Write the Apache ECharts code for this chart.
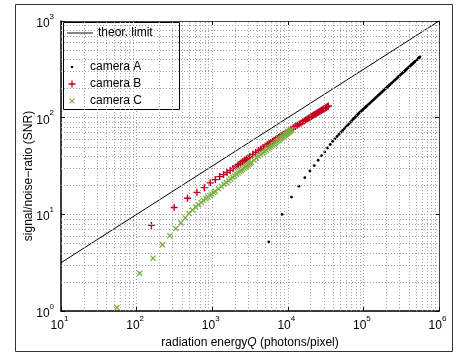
<!DOCTYPE html>
<html>
<head>
<meta charset="utf-8">
<style>
  html, body { margin: 0; padding: 0; background: #fff; }
  #main { width: 461px; height: 354px; }
</style>
<script src="https://cdn.jsdelivr.net/npm/echarts/dist/echarts.min.js"></script>
</head>
<body>
<div id="main"></div>
<script>
// theoretical limit SNR = sqrt(Q)
var limitQ = [10, 1000000];
var limitSNR = [3.162, 1000];

// camera A (black dots)
var camA_Q = [5600, 8400, 11200, 14000, 16800, 19600, 22400, 25200, 28000, 30800,
  33600, 36400, 39200, 42000, 44800, 47600, 50400, 53200, 56000, 58800,
  61600, 64400, 67200, 70000, 72800, 75600, 78400, 81200, 84000, 86800,
  89600, 92400, 95200, 98000, 100800, 103600, 106400, 109200, 112000,
  117600, 123200, 128800, 134400, 140000, 145600, 151200, 156800, 162400, 168000,
  173600, 179200, 184800, 190400, 196000, 201600, 207200, 212800, 218400, 224000,
  235200, 246400, 257600, 268800, 280000, 291200, 302400, 313600, 324800, 336000,
  347200, 358400, 369600, 380800, 392000, 403200, 414400, 425600, 436800, 448000,
  459200, 470400, 481600, 492800, 504000, 515200, 526400, 537600, 548800, 560000];
var camA_SNR = [5.2, 10.0, 15.1, 19.6, 24.0, 28.1, 32.0, 36.3, 40.4, 44.4,
  48.6, 52.8, 57.0, 60.4, 63.9, 67.2, 70.6, 73.9, 77.2, 80.5,
  83.7, 86.5, 89.6, 92.8, 95.9, 98.9, 101.9, 104.8, 107.6, 110.5,
  113.3, 115.8, 118.4, 120.9, 123.4, 125.8, 128.3, 130.7, 133.1,
  137.9, 142.6, 147.2, 151.8, 156.4, 160.8, 165.3, 169.7, 174.1, 178.4,
  182.7, 186.9, 191.1, 195.2, 199.3, 203.4, 207.5, 211.5, 215.4, 219.4,
  227.2, 235.0, 242.7, 250.2, 257.8, 265.2, 272.5, 279.8, 287.0, 294.2,
  301.2, 308.3, 315.2, 322.1, 328.9, 335.7, 342.4, 348.9, 355.5, 361.9,
  368.4, 374.8, 381.4, 387.7, 394.1, 400.4, 406.6, 412.9, 419.1, 425.2];

// camera B (red +)
var camB_Q = [157, 314, 471, 628, 785, 942, 1099, 1256, 1413, 1570,
  1727, 1884, 2041, 2198, 2355, 2512, 2669, 2826, 2983, 3140,
  3454, 3768, 4082, 4396, 4710, 5024, 5338, 5652, 5966, 6280,
  6594, 6908, 7222, 7536, 7850, 8164, 8478, 8792, 9106, 9420,
  10205, 10990, 11775, 12560, 13345, 14130, 14915, 15700, 16485, 17270,
  18055, 18840, 19625, 20410, 21195, 21980, 22765, 23550, 24335, 25120,
  25905, 26690, 27475, 28260, 29045, 29830, 30615, 31400, 32185, 32970,
  33755, 34383];
var camB_SNR = [7.7, 11.8, 14.7, 16.9, 18.9, 21.2, 22.9, 24.6, 25.8, 27.1,
  28.5, 29.9, 31.3, 32.6, 33.9, 35.1, 36.3, 37.4, 38.6, 39.7,
  41.8, 43.9, 45.7, 47.4, 49.1, 50.8, 52.4, 54.0, 55.4, 56.9,
  58.4, 59.8, 61.1, 62.5, 63.8, 65.1, 66.4, 67.6, 68.8, 70.0,
  72.9, 75.8, 78.5, 81.3, 83.7, 86.0, 88.3, 90.5, 92.6, 94.7,
  96.8, 98.8, 100.7, 102.7, 104.5, 106.4, 108.2, 109.9, 111.7, 113.4,
  115.1, 116.8, 118.4, 120.1, 121.7, 123.2, 124.8, 126.3, 127.8, 129.3,
  130.8, 131.9];

// camera C (green x)
var camC_Q = [55, 110, 165, 220, 275, 330, 385, 440, 495, 550,
  605, 660, 715, 770, 825, 880, 935, 990, 1045, 1100,
  1210, 1320, 1430, 1540, 1650, 1760, 1870, 1980, 2090, 2200,
  2310, 2420, 2530, 2640, 2750, 2860, 2970, 3080, 3190, 3300,
  3575, 3850, 4125, 4400, 4675, 4950, 5225, 5500, 5775, 6050,
  6325, 6600, 6875, 7150, 7425, 7700, 7975, 8250, 8525, 8800,
  9075, 9350, 9625, 9900, 10175, 10450, 10725, 11000, 11275];
var camC_SNR = [1.09, 2.46, 3.53, 4.85, 6.0, 7.13, 8.15, 9.2, 10.2, 11.1,
  11.9, 12.6, 13.3, 13.9, 14.5, 15.1, 15.7, 16.2, 16.8, 17.3,
  18.4, 19.5, 20.5, 21.4, 22.4, 23.3, 24.2, 25.1, 26.0, 26.8,
  27.7, 28.5, 29.3, 30.1, 30.9, 31.6, 32.4, 33.2, 33.9, 34.6,
  36.4, 38.2, 39.9, 41.5, 43.1, 44.6, 46.2, 47.7, 49.2, 50.6,
  52.1, 53.5, 54.9, 56.3, 57.6, 58.9, 60.2, 61.5, 62.8, 64.1,
  65.4, 66.6, 67.8, 69.0, 70.2, 71.4, 72.7, 73.9, 75.0];

// minor grid positions
var minorX = [20, 30, 40, 50, 60, 70, 80, 90,
  200, 300, 400, 500, 600, 700, 800, 900,
  2000, 3000, 4000, 5000, 6000, 7000, 8000, 9000,
  20000, 30000, 40000, 50000, 60000, 70000, 80000, 90000,
  200000, 300000, 400000, 500000, 600000, 700000, 800000, 900000];
var minorY = [2, 3, 4, 5, 6, 7, 8, 9,
  20, 30, 40, 50, 60, 70, 80, 90,
  200, 300, 400, 500, 600, 700, 800, 900];

var FONT = "'Liberation Sans', Arial, Helvetica, sans-serif";
var gridStyle = { color: '#a0a0a0', width: 1, type: [1, 2] };

// symbols
var PLUS = 'path://M4,0H6V4H10V6H6V10H4V6H0V4H4Z';
var CROSS = 'path://M0,1.6L1.6,0L10,8.4L8.4,10ZM8.4,0L10,1.6L1.6,10L0,8.4Z';
// legend icons (degenerate points only widen the box, so the mark stays small)
var LINE_ICON = 'path://M0,0H30V1.1H0Z';
var DOT_ICON = 'path://M0,0L0,0M10,10L10,10M3.9,3.9H6.1V6.1H3.9Z';
var PLUS_ICON = 'path://M-2,-2L-2,-2M12,12L12,12M4.1,0H5.9V4.1H10V5.9H5.9V10H4.1V5.9H0V4.1H4.1Z';
var CROSS_ICON = 'path://M-4,-4L-4,-4M14,14L14,14M0,1.5L1.5,0L10,8.5L8.5,10ZM8.5,0L10,1.5L1.5,10L0,8.5Z';

function pairs(xs, ys) {
  return xs.map(function (x, i) { return [x, ys[i]]; });
}

function powLabel(v) {
  return '{b|10}{s|' + Math.round(Math.log10(v)) + '}';
}

var labelRich = {
  b: { fontSize: 12, lineHeight: 17, verticalAlign: 'bottom', color: '#000', fontFamily: FONT },
  s: { fontSize: 8, lineHeight: 8, verticalAlign: 'top', color: '#000', fontFamily: FONT, padding: [0, 3, 0, 0] }
};

var markData = minorX.map(function (v) { return { xAxis: v }; })
  .concat(minorY.map(function (v) { return { yAxis: v }; }));

var chart = echarts.init(document.getElementById('main'));

chart.setOption({
  animation: false,
  backgroundColor: '#fff',
  textStyle: { fontFamily: FONT },
  grid: { left: 61, top: 21, width: 378, height: 292, show: false },
  graphic: [
    {
      type: 'rect', z: 0, silent: true,
      shape: { x: 15.5, y: 4.5, width: 437, height: 347 },
      style: { fill: 'none', stroke: '#333', lineWidth: 1 }
    },
    {
      type: 'rect', z: 5, silent: true,
      shape: { x: 63.5, y: 22.5, width: 116, height: 87 },
      style: { fill: '#fff', stroke: '#000', lineWidth: 1 }
    },
    {
      type: 'text', z: 5, silent: true,
      x: 29, y: 176, rotation: Math.PI / 2,
      style: {
        text: 'signal/noise\u2212ratio (SNR)', font: '12px ' + FONT, fill: '#000',
        align: 'center', verticalAlign: 'middle'
      }
    }
  ],
  legend: [
    {
      z: 10, orient: 'vertical', left: 67, top: 26, padding: 0,
      itemWidth: 26, itemHeight: 10, itemGap: 3,
      textStyle: { fontSize: 12, lineHeight: 14, color: '#000', fontFamily: FONT },
      data: [{ name: 'theor. limit', icon: LINE_ICON }]
    },
    {
      z: 10, orient: 'vertical', left: 67, top: 60, padding: 0,
      itemWidth: 26, itemHeight: 10, itemGap: 3,
      textStyle: { fontSize: 12, lineHeight: 14, color: '#000', fontFamily: FONT },
      data: [
        { name: 'camera A', icon: DOT_ICON },
        { name: 'camera B', icon: PLUS_ICON },
        { name: 'camera C', icon: CROSS_ICON }
      ]
    }
  ],
  xAxis: [
    {
      type: 'log', logBase: 10, min: 10, max: 1000000, splitNumber: 5,
      position: 'bottom',
      name: '{n|radiation energy}{i|Q}{n| (photons/pixel)}',
      nameLocation: 'middle', nameGap: 23,
      nameTextStyle: {
        rich: {
          n: { fontSize: 12, color: '#000', fontFamily: FONT },
          i: { fontSize: 12, color: '#000', fontFamily: FONT, fontStyle: 'italic' }
        }
      },
      axisLine: { lineStyle: { color: '#000', width: 1.5 } },
      axisTick: { inside: true, length: 4, lineStyle: { color: '#000' } },
      axisLabel: { formatter: powLabel, rich: labelRich, margin: 4, showMinLabel: true, showMaxLabel: true },
      splitLine: { show: true, lineStyle: gridStyle }
    },
    {
      type: 'log', logBase: 10, min: 10, max: 1000000, splitNumber: 5,
      position: 'top',
      axisLine: { lineStyle: { color: '#444', width: 1 } },
      axisTick: { inside: true, length: 4, lineStyle: { color: '#000' } },
      axisLabel: { show: false },
      splitLine: { show: false }
    }
  ],
  yAxis: [
    {
      type: 'log', logBase: 10, min: 1, max: 1000, splitNumber: 3,
      position: 'left',
      axisLine: { lineStyle: { color: '#000', width: 1.5 } },
      axisTick: { inside: true, length: 4, lineStyle: { color: '#000' } },
      axisLabel: { formatter: powLabel, rich: labelRich, margin: 4, showMinLabel: true, showMaxLabel: true },
      splitLine: { show: true, lineStyle: gridStyle }
    },
    {
      type: 'log', logBase: 10, min: 1, max: 1000, splitNumber: 3,
      position: 'right',
      axisLine: { lineStyle: { color: '#444', width: 1 } },
      axisTick: { inside: true, length: 4, lineStyle: { color: '#000' } },
      axisLabel: { show: false },
      splitLine: { show: false }
    }
  ],
  series: [
    {
      name: 'theor. limit',
      type: 'line',
      symbol: 'none',
      data: pairs(limitQ, limitSNR),
      lineStyle: { color: '#000', width: 1 },
      itemStyle: { color: '#000' },
      z: 3,
      markLine: {
        silent: true,
        symbol: 'none',
        label: { show: false },
        lineStyle: gridStyle,
        data: markData
      }
    },
    {
      name: 'camera A',
      type: 'scatter',
      symbol: 'circle',
      symbolSize: 2.8,
      itemStyle: { color: '#000', opacity: 1 },
      data: pairs(camA_Q, camA_SNR),
      z: 4
    },
    {
      name: 'camera B',
      type: 'scatter',
      symbol: PLUS,
      symbolSize: 7,
      itemStyle: { color: '#c4001f', opacity: 1 },
      data: pairs(camB_Q, camB_SNR),
      z: 4
    },
    {
      name: 'camera C',
      type: 'scatter',
      symbol: CROSS,
      symbolSize: 6,
      itemStyle: { color: '#78b13c', opacity: 1 },
      data: pairs(camC_Q, camC_SNR),
      z: 4
    }
  ]
});
</script>
</body>
</html>
